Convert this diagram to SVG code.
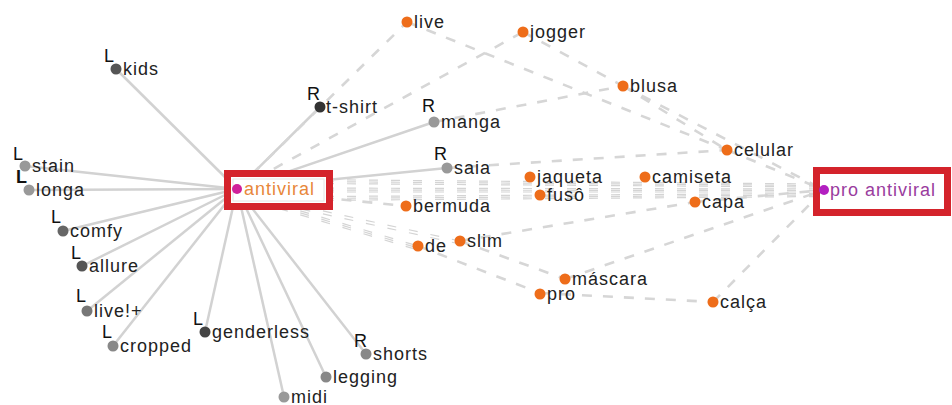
<svg xmlns="http://www.w3.org/2000/svg" width="952" height="405" viewBox="0 0 952 405">
<style>
.s{stroke:#d2d2d2;stroke-width:2.5;fill:none}
.d{stroke:#d6d6d6;stroke-width:2.6;fill:none;stroke-dasharray:10 11}
.b{stroke:#d4d4d4;stroke-width:1.2;fill:none;stroke-dasharray:9 13}
.t{font-family:"Liberation Sans",Arial,sans-serif;font-size:18px;letter-spacing:1px;fill:#222}
.m{font-family:"Liberation Sans",Arial,sans-serif;font-size:18px;fill:#111}
.o{fill:#ee6d1a}
.box{fill:#fff;stroke:#d4232b;stroke-width:7}
</style>
<rect width="952" height="405" fill="#fff"/>
<g id="connectors">
<line class="s" x1="237" y1="189" x2="116" y2="69"/>
<line class="s" x1="237" y1="189" x2="320" y2="107"/>
<line class="s" x1="237" y1="189" x2="434" y2="122"/>
<line class="s" x1="237" y1="189" x2="447" y2="168"/>
<line class="s" x1="237" y1="189" x2="25" y2="166"/>
<line class="s" x1="237" y1="189" x2="29" y2="190"/>
<line class="s" x1="237" y1="189" x2="63" y2="231"/>
<line class="s" x1="237" y1="189" x2="82" y2="266"/>
<line class="s" x1="237" y1="189" x2="87" y2="311"/>
<line class="s" x1="237" y1="189" x2="113" y2="346"/>
<line class="s" x1="237" y1="189" x2="205" y2="332"/>
<line class="s" x1="237" y1="189" x2="284" y2="397"/>
<line class="s" x1="237" y1="189" x2="326" y2="377"/>
<line class="s" x1="237" y1="189" x2="366" y2="354"/>
<line class="d" x1="237" y1="189" x2="407" y2="22"/>
<line class="d" x1="237" y1="189" x2="523" y2="32"/>
<line class="d" x1="407" y1="22" x2="727" y2="150"/>
<line class="d" x1="523" y1="32" x2="623" y2="86"/>
<line class="d" x1="434" y1="122" x2="623" y2="86"/>
<line class="d" x1="623" y1="86" x2="727" y2="150"/>
<line class="d" x1="623" y1="86" x2="824" y2="190"/>
<line class="d" x1="727" y1="150" x2="824" y2="190"/>
<line class="d" x1="447" y1="168" x2="727" y2="150"/>
<line class="d" x1="237" y1="189" x2="406" y2="206"/>
<line class="d" x1="460" y1="241" x2="695" y2="202"/>
<line class="d" x1="695" y1="202" x2="824" y2="190"/>
<line class="d" x1="418" y1="246" x2="540" y2="293"/>
<line class="d" x1="460" y1="241" x2="565" y2="279"/>
<line class="d" x1="565" y1="279" x2="824" y2="190"/>
<line class="d" x1="540" y1="293" x2="713" y2="302"/>
<line class="d" x1="713" y1="302" x2="824" y2="190"/>
<line class="b" x1="237" y1="179" x2="824" y2="184"/>
<line class="b" x1="237" y1="181" x2="824" y2="185.5"/>
<line class="b" x1="237" y1="183" x2="824" y2="187"/>
<line class="b" x1="237" y1="188" x2="824" y2="189"/>
<line class="b" x1="237" y1="190" x2="824" y2="190.5"/>
<line class="b" x1="237" y1="192" x2="824" y2="192"/>
<line class="b" x1="237" y1="197" x2="824" y2="193.5"/>
<line class="b" x1="237" y1="199" x2="824" y2="195"/>
<line class="b" x1="237" y1="201" x2="824" y2="196.5"/>
<line class="b" x1="237" y1="192" x2="418" y2="246"/>
<line class="b" x1="237" y1="194" x2="418" y2="248"/>
<line class="b" x1="237" y1="196" x2="418" y2="250"/>
<line class="b" x1="237" y1="192" x2="460" y2="241"/>
<line class="b" x1="237" y1="195" x2="460" y2="244"/>
</g>
<g id="n-antiviral">
<rect class="box" x="227.5" y="173.5" width="102" height="33"/>
<rect x="233" y="179" width="91" height="22" fill="#fff" stroke="#e4e4e4" stroke-width="1"/>
<circle cx="237" cy="189" r="5" fill="#d0209a"/>
<text class="t" x="244" y="195" style="fill:#e8873a">antiviral</text>
</g>
<g id="n-pro-antiviral">
<rect class="box" x="816.5" y="170.5" width="131" height="42"/>
<circle cx="824" cy="190" r="5" fill="#b21fc0"/>
<text class="t" x="830" y="196" style="fill:#9a3c9e">pro antiviral</text>
</g>
<g id="n-kids"><circle cx="116" cy="69" r="5.5" fill="#555"/><text class="m" x="104" y="62">L</text><text class="t" x="123" y="75">kids</text></g>
<g id="n-tshirt"><circle cx="320" cy="107" r="5.5" fill="#333"/><text class="m" x="307" y="100">R</text><text class="t" x="326" y="113">t-shirt</text></g>
<g id="n-manga"><circle cx="434" cy="122" r="5.5" fill="#999"/><text class="m" x="422" y="112">R</text><text class="t" x="441" y="128">manga</text></g>
<g id="n-saia"><circle cx="447" cy="168" r="5.5" fill="#999"/><text class="m" x="434" y="160">R</text><text class="t" x="454" y="174">saia</text></g>
<g id="n-stain"><circle cx="25" cy="166" r="5.5" fill="#999"/><text class="m" x="13" y="160">L</text><text class="t" x="32" y="172">stain</text></g>
<g id="n-longa"><circle cx="29" cy="190" r="5.5" fill="#999"/><text class="m" x="16" y="183" style="font-weight:bold">L</text><text class="t" x="36" y="196">longa</text></g>
<g id="n-comfy"><circle cx="63" cy="231" r="5.5" fill="#666"/><text class="m" x="51" y="223">L</text><text class="t" x="70" y="237">comfy</text></g>
<g id="n-allure"><circle cx="82" cy="266" r="5.5" fill="#555"/><text class="m" x="71" y="259">L</text><text class="t" x="89" y="272">allure</text></g>
<g id="n-live-plus"><circle cx="87" cy="311" r="5.5" fill="#777"/><text class="m" x="76" y="302">L</text><text class="t" x="94" y="317">live!+</text></g>
<g id="n-cropped"><circle cx="113" cy="346" r="5.5" fill="#888"/><text class="m" x="102" y="338">L</text><text class="t" x="120" y="352">cropped</text></g>
<g id="n-genderless"><circle cx="205" cy="332" r="5.5" fill="#444"/><text class="m" x="193" y="325">L</text><text class="t" x="212" y="338">genderless</text></g>
<g id="n-midi"><circle cx="284" cy="397" r="5.5" fill="#999"/><text class="t" x="291" y="403">midi</text></g>
<g id="n-legging"><circle cx="326" cy="377" r="5.5" fill="#888"/><text class="t" x="333" y="383">legging</text></g>
<g id="n-shorts"><circle cx="366" cy="354" r="5.5" fill="#888"/><text class="m" x="354" y="347">R</text><text class="t" x="373" y="360">shorts</text></g>
<g id="n-live"><circle class="o" cx="407" cy="22" r="5.5"/><text class="t" x="414" y="28">live</text></g>
<g id="n-jogger"><circle class="o" cx="523" cy="32" r="5.5"/><text class="t" x="530" y="38">jogger</text></g>
<g id="n-blusa"><circle class="o" cx="623" cy="86" r="5.5"/><text class="t" x="630" y="92">blusa</text></g>
<g id="n-celular"><circle class="o" cx="727" cy="150" r="5.5"/><text class="t" x="734" y="156">celular</text></g>
<g id="n-jaqueta"><circle class="o" cx="530" cy="177" r="5.5"/><text class="t" x="537" y="183">jaqueta</text></g>
<g id="n-fuso"><circle class="o" cx="540" cy="195" r="5.5"/><text class="t" x="547" y="201">fusô</text></g>
<g id="n-camiseta"><circle class="o" cx="645" cy="177" r="5.5"/><text class="t" x="652" y="183">camiseta</text></g>
<g id="n-capa"><circle class="o" cx="695" cy="202" r="5.5"/><text class="t" x="702" y="208">capa</text></g>
<g id="n-bermuda"><circle class="o" cx="406" cy="206" r="5.5"/><text class="t" x="413" y="212">bermuda</text></g>
<g id="n-de"><circle class="o" cx="418" cy="246" r="5.5"/><text class="t" x="425" y="252">de</text></g>
<g id="n-slim"><circle class="o" cx="460" cy="241" r="5.5"/><text class="t" x="467" y="247">slim</text></g>
<g id="n-mascara"><circle class="o" cx="565" cy="279" r="5.5"/><text class="t" x="572" y="285">máscara</text></g>
<g id="n-pro"><circle class="o" cx="540" cy="294" r="5.5"/><text class="t" x="547" y="300">pro</text></g>
<g id="n-calca"><circle class="o" cx="713" cy="302" r="5.5"/><text class="t" x="720" y="308">calça</text></g>
</svg>
